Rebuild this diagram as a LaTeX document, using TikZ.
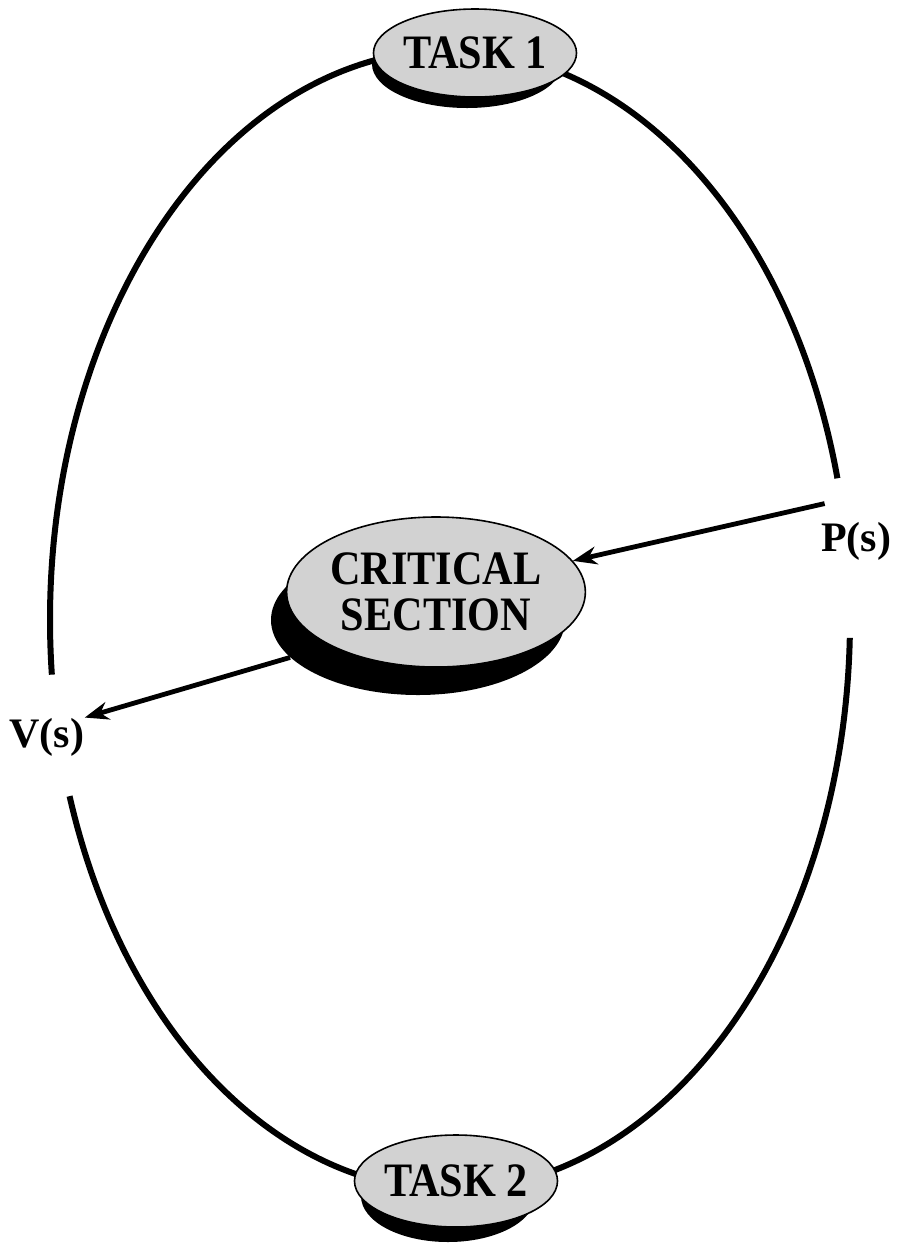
\documentclass[tikz,border=0pt]{standalone}
\usepackage{fontspec}
\setmainfont{Liberation Serif}
\newfontfamily\blobfont{Liberation Serif}[FakeStretch=0.88]
\usetikzlibrary{arrows.meta,positioning,shapes.geometric}

\begin{document}
\begin{tikzpicture}[
  x=0.5pt, y=0.5pt,
  blob/.style={ellipse, draw=black, thick, fill=gray!35, inner sep=0pt, align=center,
    font=\blobfont\bfseries\fontsize{24}{23}\selectfont},
  blobshade/.style={ellipse, fill=black, inner sep=0pt},
  ring/.style={line width=3pt},
  sig/.style={-{Stealth[length=12pt, width=9pt]}, line width=2.4pt},
  sem/.style={font=\bfseries\fontsize{21}{21}\selectfont, inner sep=0pt},
]
\useasboundingbox (0,0) rectangle (900,-1244);

% ---- Outer cycle, broken at P(s) and V(s) ----
\draw[ring] (450,-620) ++(14.4:400 and 570)
  arc[start angle=14.4, end angle=185.5, x radius=400, y radius=570];
\draw[ring] (450,-620) ++(198:400 and 570)
  arc[start angle=198, end angle=358.2, x radius=400, y radius=570];

% ---- Tasks on the cycle ----
\node[blobshade, minimum width=95pt, minimum height=44pt] (t1shade) at (467,-64) {};
\node[blob, minimum width=95pt, minimum height=44pt] (task1) at (475,-53) {TASK 1};

\node[blobshade, minimum width=87pt, minimum height=46pt] (t2shade) at (448,-1196) {};
\node[blob, minimum width=87pt, minimum height=46pt] (task2) at (456,-1181) {TASK 2};

% ---- Critical section ----
\node[blobshade, minimum width=147pt, minimum height=75pt] (critshade) at (418,-620) {};
\node[blob, minimum width=147pt, minimum height=75pt] (crit) at (436,-592) {CRITICAL\\SECTION};

% ---- Semaphore operations ----
\node[sem] (P) at (856,-541) {P(s)};
\node[sem] (V) at (47,-737) {V(s)};

\draw[sig] ([shift={(4,18)}]P.north west) -- (crit);
\draw[sig] (critshade) -- (V.north east);

\end{tikzpicture}
\end{document}
